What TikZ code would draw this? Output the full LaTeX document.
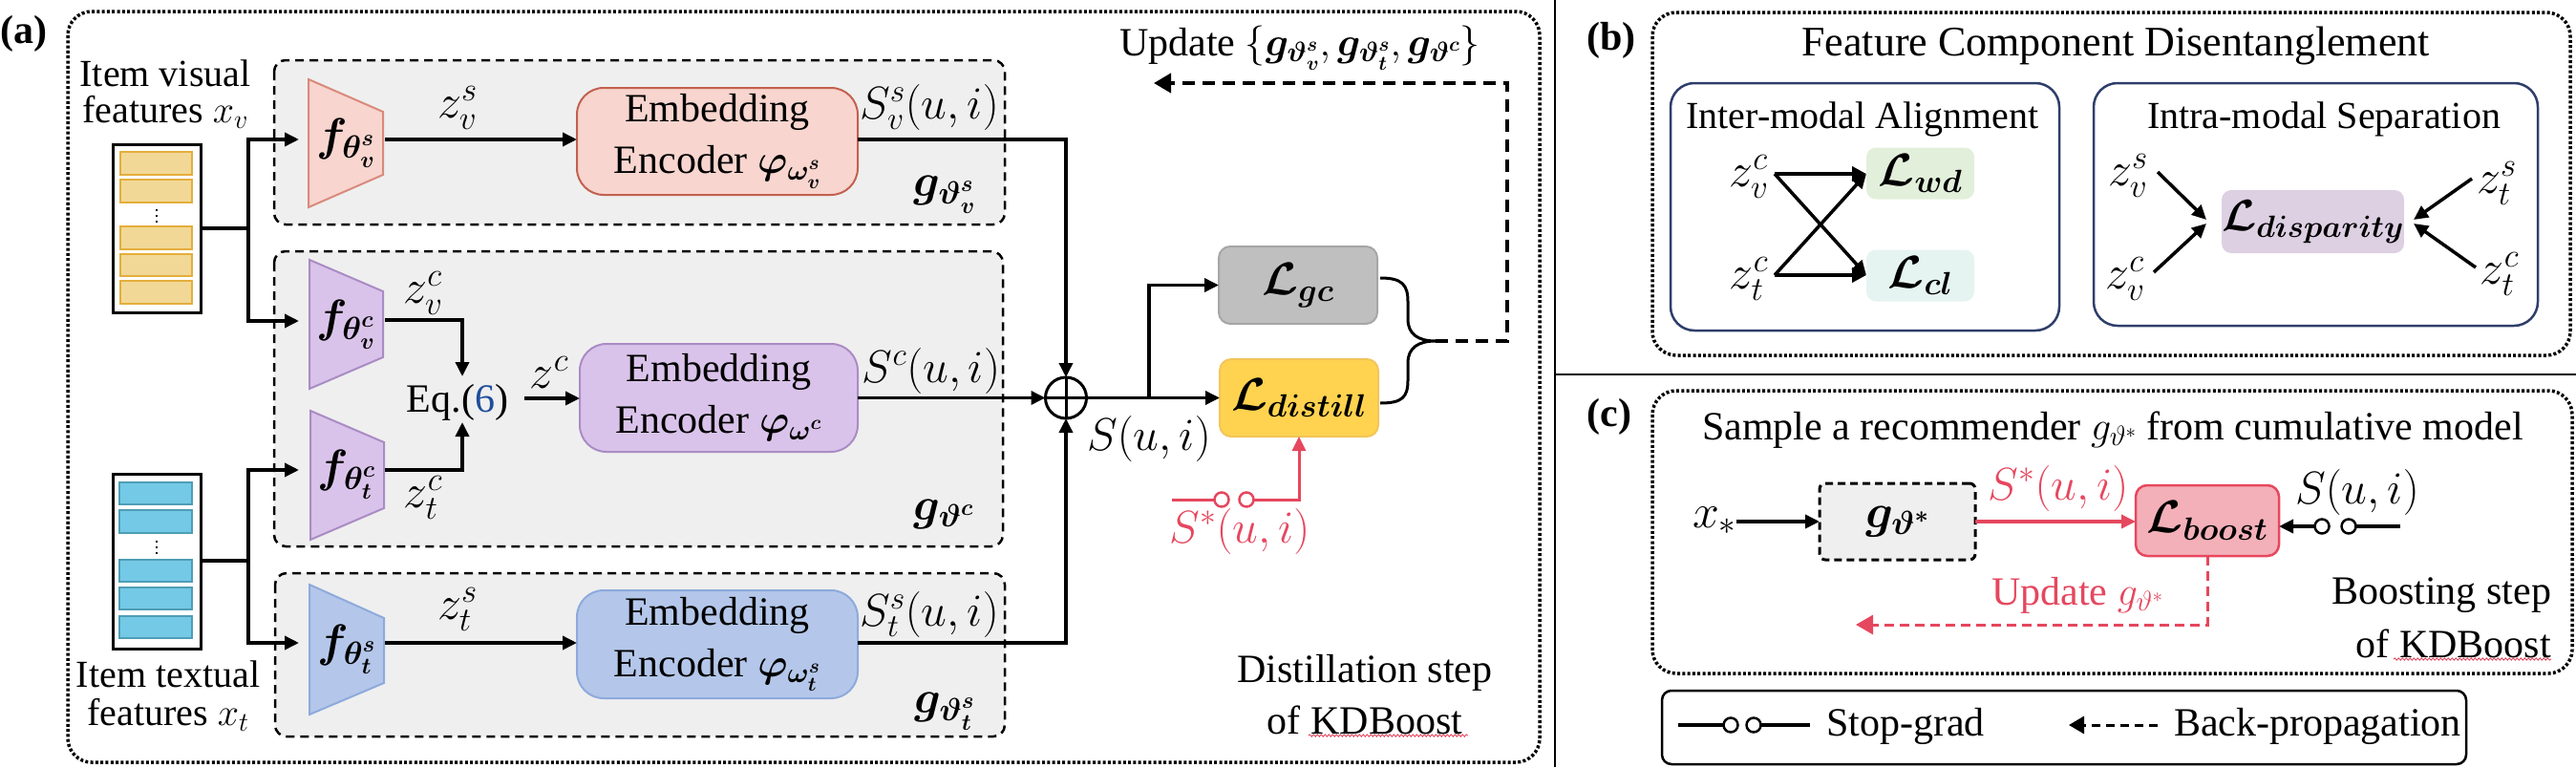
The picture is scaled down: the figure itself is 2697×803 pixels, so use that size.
\RequirePackage{fix-cm}
\documentclass[tikz,border=0pt]{standalone}
\usepackage{amsmath}
\usepackage{bm}
\usepackage{fontspec}
\setmainfont{Liberation Serif}[Ligatures=TeX]
\usetikzlibrary{arrows.meta,decorations.pathmorphing,calc}
\definecolor{grpfill}{HTML}{EFEFEF}
\definecolor{pinkfill}{HTML}{F8D5CF}
\definecolor{pinktrap}{HTML}{D98A7C}
\definecolor{pinkdraw}{HTML}{C2614F}
\definecolor{purfill}{HTML}{DAC3EA}
\definecolor{purdraw}{HTML}{A98CC4}
\definecolor{bluefill}{HTML}{B4C7EA}
\definecolor{bluedraw}{HTML}{8EAADC}
\definecolor{gcfill}{HTML}{BFBFBF}
\definecolor{gcdraw}{HTML}{A6A6A6}
\definecolor{distfill}{HTML}{FFD34F}
\definecolor{distdraw}{HTML}{F3C55A}
\definecolor{ybar}{HTML}{F1D896}
\definecolor{ybardraw}{HTML}{E4AE3C}
\definecolor{cbar}{HTML}{73C9E6}
\definecolor{cbardraw}{HTML}{4F9DB5}
\definecolor{redc}{HTML}{E5475E}
\definecolor{navy}{HTML}{2F3E6B}
\definecolor{wdfill}{HTML}{E2EFDA}
\definecolor{clfill}{HTML}{E5F4F0}
\definecolor{disfill}{HTML}{DCD0E2}
\definecolor{boostfill}{HTML}{F3B0B9}
\definecolor{boostdraw}{HTML}{E8475F}
\definecolor{eqblue}{HTML}{1F4E9B}
\newcommand\fs[2]{\fontsize{#1}{#2}\selectfont}
\begin{document}
\begin{tikzpicture}[x=1pt,y=-1pt,
  every node/.style={inner sep=0pt, outer sep=0pt},
  tip/.style={-{Triangle[length=15pt,width=14pt]}},
  conn/.style={line width=3.5pt, tip},
  plain/.style={line width=3.5pt},
  grp/.style={draw, line width=2.5pt, dash pattern=on 9pt off 6pt, fill=grpfill, rounded corners=12pt},
  dotbox/.style={draw, line width=3.5pt, dash pattern=on 3pt off 2.3pt, rounded corners=25pt},
  embbox/.style={draw, line width=2pt, rounded corners=28pt, minimum width=294pt, minimum height=112pt, align=center, font=\fs{42}{54}},
  lossbox/.style={draw, line width=2pt, rounded corners=12pt, minimum width=166pt, minimum height=81pt, font=\fs{48}{50}},
  lab/.style={font=\fs{40}{46}},
  zlab/.style={font=\fs{50}{52}},
  mlab/.style={font=\fs{48}{50}},
  sgc/.style={circle, draw, fill=white, line width=2.5pt, minimum size=15pt},
  bar/.style={line width=2pt},
]
\useasboundingbox (0,0) rectangle (2697,803);

%================ Panel (a) ================
\node[font=\bfseries\fs{42}{48}] (pa) at (25,35) {(a)};
\draw[dotbox] (71,12) rectangle (1612,798);

% group boxes
\draw[grp] (287,63) rectangle (1052,235);
\draw[grp] (287,263) rectangle (1050,572);
\draw[grp] (288,600) rectangle (1052,771);

% item visual features
\node[align=center, font=\fs{40}{38}] (tv) at (173,99) {Item visual\\features $x_v$};
\node[draw, line width=3pt, minimum width=92pt, minimum height=176pt] (vbox) at (164,239) {};
\foreach \a/\b in {159/183,188/212,237/261,266/289,294/318}
  \draw[bar, fill=ybar, draw=ybardraw] (126,\a) rectangle (201,\b);
\draw[line width=1.8pt, dash pattern=on 2pt off 4pt] (164,219) -- (164,236);

% item textual features
\node[draw, line width=3pt, minimum width=92pt, minimum height=183pt] (tbox) at (164,587.5) {};
\foreach \a/\b in {505/528,534/558,586/609,615/638,645/668}
  \draw[bar, fill=cbar, draw=cbardraw] (125,\a) rectangle (201,\b);
\draw[line width=1.8pt, dash pattern=on 2pt off 4pt] (164,566) -- (164,583);
\node[align=center, font=\fs{40}{40}] (tt) at (176,729) {Item textual\\features $x_t$};

% trapezoids
\draw[line width=2pt, fill=pinkfill, draw=pinktrap] (323,83) -- (401,117) -- (401,183) -- (323,217) -- cycle;
\draw[line width=2pt, fill=purfill, draw=purdraw] (324,272) -- (401,305) -- (401,374) -- (324,407) -- cycle;
\draw[line width=2pt, fill=purfill, draw=purdraw] (325,430) -- (402,463) -- (402,532) -- (325,565) -- cycle;
\draw[line width=2pt, fill=bluefill, draw=bluedraw] (324,612) -- (402,647) -- (402,715) -- (324,748) -- cycle;
\node[font=\fs{48}{50}] (fvs) at (362,150) {$\bm{f_{\theta_v^s}}$};
\node[font=\fs{48}{50}] (fvc) at (362,340) {$\bm{f_{\theta_v^c}}$};
\node[font=\fs{48}{50}] (ftc) at (363,497) {$\bm{f_{\theta_t^c}}$};
\node[font=\fs{48}{50}] (fts) at (363,680) {$\bm{f_{\theta_t^s}}$};

\coordinate (fvsIn) at (313,146);
\coordinate (fvcIn) at (313,336);
\coordinate (ftcIn) at (313,492);
\coordinate (ftsIn) at (313,673);
\coordinate (fvsOut) at (403,146);
\coordinate (fvcOut) at (403,335);
\coordinate (ftcOut) at (403,492);
\coordinate (ftsOut) at (403,673);
\coordinate (jv) at (260,239);
\coordinate (jt) at (260,587);

\draw[plain] (vbox.east) -- (jv);
\draw[conn] (jv) |- (fvsIn);
\draw[conn] (jv) |- (fvcIn);
\draw[plain] (tbox.east |- jt) -- (jt);
\draw[conn] (jt) |- (ftcIn);
\draw[conn] (jt) |- (ftsIn);

% embedding encoders
\node[embbox, fill=pinkfill, draw=pinkdraw] (embv) at (751,148) {Embedding\\Encoder $\bm{\varphi_{\omega_v^s}}$};
\node[embbox, fill=purfill, draw=purdraw, minimum width=291pt, minimum height=113pt] (embc) at (752.5,416.5) {Embedding\\Encoder $\bm{\varphi_{\omega^c}}$};
\node[embbox, fill=bluefill, draw=bluedraw, minimum height=113pt] (embt) at (751,674.5) {Embedding\\Encoder $\bm{\varphi_{\omega_t^s}}$};

% z labels
\node[zlab] (lzvs) at (479,113) {$z_v^s$};
\node[zlab] (lzvc) at (443,307) {$z_v^c$};
\node[zlab] (lztc) at (443,521) {$z_t^c$};
\node[zlab] (lzts) at (479,638) {$z_t^s$};
\node[zlab] (lzc) at (575,390) {$z^c$};

\draw[conn] (fvsOut) -- (fvsOut -| embv.west);
\draw[conn] (ftsOut) -- (ftsOut -| embt.west);

% Eq.(6)
\node[font=\fs{42}{46}] (eq) at (479,421) {Eq.(\textcolor{eqblue}{6})};
\coordinate (eqTop) at (484,394);
\coordinate (eqBot) at (484,442);
\coordinate (eqR) at (549,417);
\draw[conn] (fvcOut) -| (eqTop);
\draw[conn] (ftcOut) -| (eqBot);
\draw[conn] (eqR) -- (eqR -| embc.west);

% S labels
\node[mlab] (lsv) at (973,112) {$S_v^s(u,i)$};
\node[mlab] (lsc) at (975,388) {$S^c(u,i)$};
\node[mlab] (lst) at (973,643) {$S_t^s(u,i)$};
\node[mlab] (gv) at (989,204) {$\bm{g_{\vartheta_v^s}}$};
\node[mlab] (gc) at (988,538) {$\bm{g_{\vartheta^c}}$};
\node[mlab] (gt) at (989,745) {$\bm{g_{\vartheta_t^s}}$};

% sum
\node[circle, draw, line width=3pt, minimum size=43pt] (sum) at (1116,416.5) {};
\draw[line width=3pt] (sum.north) -- (sum.south) (sum.west) -- (sum.east);
\draw[conn] (embv.east |- fvsOut) -| (sum.north);
\draw[conn] (embc.east) -- (sum.west);
\draw[conn] (embt.east |- ftsOut) -| (sum.south);

% losses
\node[lossbox, fill=gcfill, draw=gcdraw] (lgc) at (1359,298.5) {$\bm{\mathcal{L}_{gc}}$};
\node[lossbox, fill=distfill, draw=distdraw] (ldis) at (1360,416.5) {$\bm{\mathcal{L}_{distill}}$};
\coordinate (br) at (1203,416.5);
\draw[conn] (sum.east) -- (ldis.west);
\draw[conn] (br) |- (lgc.west);
\node[mlab] (lsum) at (1203,459) {$S(u,i)$};

% brace
\draw[line width=3pt] (1445,291) .. controls (1468,291) and (1474,298) .. (1474,316) -- (1474,334)
  .. controls (1474,350) and (1485,357) .. (1503,357)
  .. controls (1485,357) and (1474,364) .. (1474,380) -- (1474,398)
  .. controls (1474,416) and (1468,422) .. (1445,422);
\coordinate (brtip) at (1503,357);
\coordinate (upd) at (1208,87);
\draw[line width=4pt, dash pattern=on 13pt off 8pt, -{Triangle[length=18pt,width=20pt]}] (brtip) -- (1578,357) |- (upd);
\node[font=\fs{42}{46}] (updt) at (1361,50) {Update $\{\bm{g_{\vartheta_v^s}},\bm{g_{\vartheta_t^s}},\bm{g_{\vartheta^c}}\}$};

% red stop-grad
\coordinate (sgA) at (1227,523);
\node[sgc, draw=redc] (sg1) at (1279,523) {};
\node[sgc, draw=redc] (sg2) at (1305,523) {};
\draw[redc, line width=3pt] (sgA) -- (sg1.west);
\draw[redc, line width=3pt, tip] (sg2.east) -| (ldis.south);
\node[mlab, text=redc] (lss) at (1298,556) {$S^*(u,i)$};

\node[font=\fs{42}{54}, align=center] (dstep) at (1429,727) {Distillation step\\of KDBoost};
\draw[redc, line width=0.9pt, decorate, decoration={snake, amplitude=1.1pt, segment length=4pt}] (1370,770) -- (1537,770);

%================ separators ================
\draw[line width=2.5pt] (1628,0) -- (1628,803);
\draw[line width=2.5pt] (1628,392) -- (2697,392);

%================ Panel (b) ================
\node[font=\bfseries\fs{42}{48}] (pb) at (1687,42) {(b)};
\draw[dotbox] (1730,13) rectangle (2691,372);
\node[font=\fs{44}{50}] (tb) at (2215,48) {Feature Component Disentanglement};
\draw[navy, line width=2.5pt, rounded corners=25pt] (1749,87) rectangle (2156,346);
\draw[navy, line width=2.5pt, rounded corners=25pt] (2192,87) rectangle (2657,341);
\node[lab] (tinter) at (1950,125) {Inter-modal Alignment};
\node[lab] (tintra) at (2433,125) {Intra-modal Separation};

\node[zlab] (bzvc) at (1831,185) {$z_v^c$};
\node[zlab] (bztc) at (1831,292) {$z_t^c$};
\node[fill=wdfill, rounded corners=10pt, minimum width=113pt, minimum height=54pt, font=\fs{48}{50}] (lwd) at (2010.5,181.5) {$\bm{\mathcal{L}_{wd}}$};
\node[fill=clfill, rounded corners=10pt, minimum width=113pt, minimum height=54pt, font=\fs{48}{50}] (lcl) at (2010.5,288.5) {$\bm{\mathcal{L}_{cl}}$};
\coordinate (a1) at (1858,182);
\coordinate (a2) at (1858,288);
\draw[line width=4.5pt, -{Triangle[length=15pt,width=15pt]}] (a1) -- (lwd.west |- a1);
\draw[line width=4.5pt, -{Triangle[length=15pt,width=15pt]}] (a2) -- (lcl.west |- a2);
\draw[line width=3.5pt, -{Triangle[length=15pt,width=14pt]}] (a1) -- (lcl.west |- a2);
\draw[line width=3.5pt, -{Triangle[length=15pt,width=14pt]}] (a2) -- (lwd.west |- a1);

\node[fill=disfill, rounded corners=10pt, minimum width=189pt, minimum height=66pt, font=\fs{46}{50}] (ldisp) at (2421.5,232) {$\bm{\mathcal{L}_{disparity}}$};
\node[zlab] (bzvs) at (2228,184) {$z_v^s$};
\node[zlab] (bzvc2) at (2225,292) {$z_v^c$};
\node[zlab] (bzts) at (2614,192) {$z_t^s$};
\node[zlab] (bztc2) at (2617,287) {$z_t^c$};
\coordinate (d1) at (2259,180);
\coordinate (d2) at (2255,285);
\coordinate (d3) at (2588,187);
\coordinate (d4) at (2592,280);
\coordinate (dl1) at (2310,230);
\coordinate (dl2) at (2310,234);
\coordinate (dr1) at (2527,230);
\coordinate (dr2) at (2527,234);
\draw[line width=3.5pt, -{Triangle[length=15pt,width=14pt]}] (d1) -- (dl1);
\draw[line width=3.5pt, -{Triangle[length=15pt,width=14pt]}] (d2) -- (dl2);
\draw[line width=3.5pt, -{Triangle[length=15pt,width=14pt]}] (d3) -- (dr1);
\draw[line width=3.5pt, -{Triangle[length=15pt,width=14pt]}] (d4) -- (dr2);

%================ Panel (c) ================
\node[font=\bfseries\fs{42}{48}] (pc) at (1685,436) {(c)};
\draw[dotbox] (1730,409) rectangle (2693,705);
\node[font=\fs{42}{46}] (tc) at (2212,450) {Sample a recommender $g_{\vartheta^*}$ from cumulative model};

\node[draw, line width=3pt, dash pattern=on 8pt off 5pt, fill=grpfill, rounded corners=6pt, minimum width=163pt, minimum height=80pt, font=\fs{50}{52}] (gbox) at (1986.5,546) {$\bm{g_{\vartheta^*}}$};
\node[zlab] (xs) at (1795,545) {$x_*$};
\draw[conn] (xs.east |- gbox.west) -- (gbox.west);
\node[draw=boostdraw, fill=boostfill, line width=2.5pt, rounded corners=12pt, minimum width=150pt, minimum height=74pt, font=\fs{48}{50}] (lboost) at (2311,545) {$\bm{\mathcal{L}_{boost}}$};
\draw[redc, line width=3.5pt, tip] (gbox.east) -- (gbox.east -| lboost.west);
\node[mlab, text=redc] (lss2) at (2155,511) {$S^*(u,i)$};
\node[mlab] (lsu2) at (2468,515) {$S(u,i)$};
\coordinate (sgB) at (2513,551);
\node[sgc] (sg3) at (2431,551) {};
\node[sgc] (sg4) at (2459,551) {};
\draw[plain] (sgB) -- (sg4.east);
\draw[conn] (sg3.west) -- (sg3.west -| lboost.east);
\coordinate (updc) at (1943,654);
\draw[redc, line width=3pt, dash pattern=on 10pt off 6pt, -{Triangle[length=18pt,width=20pt]}] (lboost.south) |- (updc);
\node[font=\fs{42}{46}, text=redc] (updg) at (2175,623) {Update $g_{\vartheta^*}$};
\node[font=\fs{42}{56}, align=right, anchor=east] (bstep) at (2671,647) {Boosting step\\of KDBoost};
\draw[redc, line width=0.9pt, decorate, decoration={snake, amplitude=1.1pt, segment length=4pt}] (2506,690) -- (2671,690);

% legend
\draw[line width=2.5pt, rounded corners=10pt] (1740,723) rectangle (2582,800);
\coordinate (lg1) at (1757,759);
\coordinate (lg2) at (1895,759);
\node[sgc] (sg5) at (1812,759) {};
\node[sgc] (sg6) at (1836,759) {};
\draw[plain] (lg1) -- (sg5.west);
\draw[plain] (sg6.east) -- (lg2);
\node[font=\fs{42}{46}, anchor=west] (lsg) at (1912,760) {Stop-grad};
\coordinate (lb1) at (2259,759);
\coordinate (lb2) at (2166,759);
\draw[line width=3pt, dash pattern=on 9pt off 6pt, -{Triangle[length=16pt,width=18pt]}] (lb1) -- (lb2);
\node[font=\fs{42}{46}, anchor=west] (lbp) at (2276,760) {Back-propagation};
\end{tikzpicture}
\end{document}
